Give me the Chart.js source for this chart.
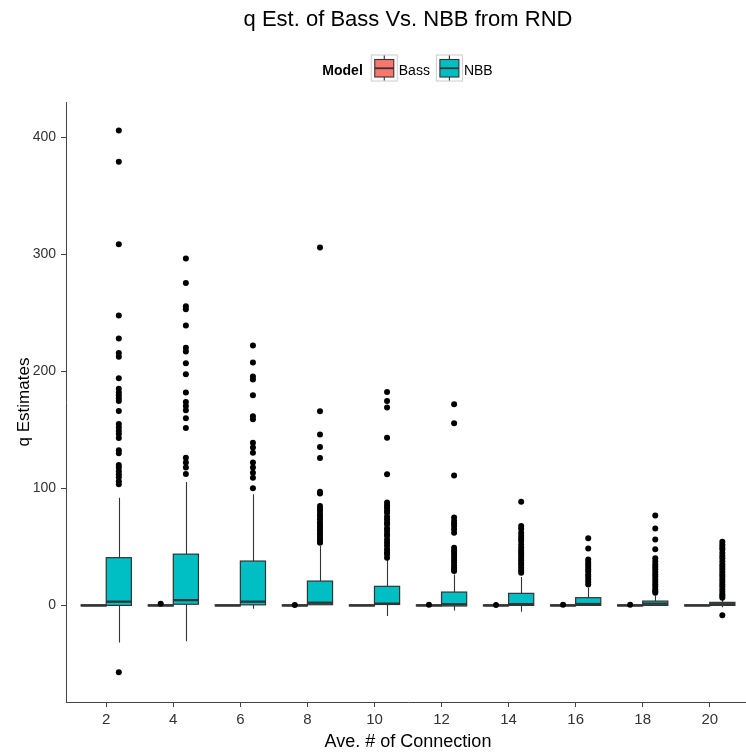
<!DOCTYPE html>
<html>
<head>
<meta charset="utf-8">
<script src="https://cdn.jsdelivr.net/npm/chart.js@4.4.1/dist/chart.umd.min.js"></script>
<style>
html,body{margin:0;padding:0;background:#fff;overflow:hidden;}
#wrap{width:753px;height:753px;}
</style>
</head>
<body>
<div id="wrap"><canvas id="c" width="753" height="753"></canvas></div>
<script>
// ---- data ----
const categories = [2, 4, 6, 8, 10, 12, 14, 16, 18, 20];
const seriesNames = ['Bass', 'NBB'];
const yTickValues = [0, 100, 200, 300, 400];

const nbbQ1 = [0, 1, 0.5, 0.6, 0.8, -0.5, 0, 0, 0, 0];
const nbbMedian = [3.2, 4.5, 3.2, 2.3, 1.5, 1, 1.1, 1.2, 1.5, 1];
const nbbQ3 = [40.8, 43.8, 37.9, 20.8, 16.3, 11.4, 10.3, 6.6, 3.7, 2.6];
const nbbWhiskerLow = [-31.6, -30.7, -2.8, 0.6, -9.1, -4.3, -5.4, -0.5, -0.5, -1.5];
const nbbWhiskerHigh = [92, 105.4, 95, 50.7, 39.3, 26.5, 24.2, 15.1, 8.5, 5];

const bassQ1 = [-0.4, -0.4, -0.4, -0.4, -0.4, -0.4, -0.4, -0.4, -0.4, -0.4];
const bassMedian = [0, 0, 0, 0, 0, 0, 0, 0, 0, 0];
const bassQ3 = [0.4, 0.4, 0.4, 0.4, 0.4, 0.4, 0.4, 0.4, 0.4, 0.4];
const bassWhiskerLow = [-0.4, -0.4, -0.4, -0.4, -0.4, -0.4, -0.4, -0.4, -0.4, -0.4];
const bassWhiskerHigh = [0.4, 0.4, 0.4, 0.4, 0.4, 0.4, 0.4, 0.4, 0.4, 0.4];

const nbbOutliers = [
  [405.7, 379, 308.5, 247.6, 228, 215.5, 212.5, 194, 185, 182, 179.5, 177, 174.5, 166, 155, 152, 149, 146.5, 143, 132.5, 130, 120, 117.5, 114.5, 112, 109.5, 106, 103.5, -57],
  [296.3, 275.5, 255.5, 253, 239, 220, 216.8, 206.8, 197.4, 181.8, 173.8, 170.3, 166.7, 159.8, 151.5, 126.2, 122, 117.7, 112.2],
  [222, 207.5, 195.5, 193, 179.5, 161.5, 159, 139, 134.8, 130.5, 122, 117.7, 113.4, 109, 100],
  [305.7, 165.8, 145.9, 135.3, 125.9, 97, 95.5, 85, 82.5, 80.6, 78, 76, 73.5, 71, 69, 67, 65, 63, 60.7, 58.5, 56.4, 54.5, 53.6],
  [182.3, 174.6, 169, 143.3, 112, 87.8, 85.5, 83.5, 81, 79.2, 76, 73.5, 71, 69.2, 66, 63.5, 61, 59.2, 56, 53.6, 51, 47.9, 45.5, 43.6, 40.8],
  [171.8, 155.6, 111, 75, 72, 70, 67.8, 65, 62.1, 49.3, 47, 45, 43, 40.8, 38.5, 36.5, 34, 32.2, 30.5, 29.3],
  [88.6, 67.8, 65.5, 62, 59.2, 57, 55, 52, 49.3, 47, 45, 43, 40.8, 38.5, 36.5, 34.5, 32.2, 30, 27.9],
  [57.3, 48.7, 39.3, 37, 35, 33, 30.8, 29, 26.5, 24.5, 22.2, 20, 17.9],
  [76.9, 65.8, 56.4, 47.9, 40.2, 37.5, 35, 33, 30.8, 28.5, 26.5, 24.5, 22.2, 20, 17.9, 16, 13.7, 12, 10.9],
  [54.4, 52.1, 50, 47.9, 45, 42.5, 40.2, 37.5, 35, 33, 30.8, 28.5, 26.5, 24.5, 22.2, 20, 17.9, 16, 13.7, 11.5, 9.4, 8, 6.6, -8.3]
];
const bassOutliers = [[], [1.5], [], [0.3], [], [0.5], [0.3], [0.5], [0.5], []];

// ---- style ----
const colors = { Bass: '#F8766D', NBB: '#00BFC4' };
const lineCol = '#333333';
const DODGE = 0.375;      // half of dodge width in x-units
const HALF = 0.375;       // half box width in x-units

const boxes = [
  { name: 'Bass', off: -DODGE, q1: bassQ1, med: bassMedian, q3: bassQ3, lo: bassWhiskerLow, hi: bassWhiskerHigh },
  { name: 'NBB', off: DODGE, q1: nbbQ1, med: nbbMedian, q3: nbbQ3, lo: nbbWhiskerLow, hi: nbbWhiskerHigh }
];

const boxPlugin = {
  id: 'boxes',
  beforeDatasetsDraw(chart) {
    const ctx = chart.ctx, xs = chart.scales.x, ys = chart.scales.y, a = chart.chartArea;
    ctx.save();
    ctx.beginPath(); ctx.rect(a.left, a.top, a.right - a.left, a.bottom - a.top); ctx.clip();
    categories.forEach((c, i) => {
      boxes.forEach(b => {
        const cx = xs.getPixelForValue(c + b.off);
        const x0 = xs.getPixelForValue(c + b.off - HALF);
        const x1 = xs.getPixelForValue(c + b.off + HALF);
        const yq1 = ys.getPixelForValue(b.q1[i]), yq3 = ys.getPixelForValue(b.q3[i]);
        const ym = ys.getPixelForValue(b.med[i]);
        const ylo = ys.getPixelForValue(b.lo[i]), yhi = ys.getPixelForValue(b.hi[i]);
        ctx.strokeStyle = lineCol; ctx.lineWidth = 1.1;
        ctx.beginPath();
        ctx.moveTo(Math.round(cx) + 0.5, yq3); ctx.lineTo(Math.round(cx) + 0.5, yhi);
        ctx.moveTo(Math.round(cx) + 0.5, yq1); ctx.lineTo(Math.round(cx) + 0.5, ylo);
        ctx.stroke();
        ctx.fillStyle = colors[b.name];
        ctx.fillRect(x0, yq3, x1 - x0, yq1 - yq3);
        ctx.lineWidth = 1.2;
        ctx.strokeRect(x0, yq3, x1 - x0, yq1 - yq3);
        ctx.lineWidth = 2.3;
        ctx.beginPath(); ctx.moveTo(x0, ym); ctx.lineTo(x1, ym); ctx.stroke();
      });
    });
    ctx.restore();
  }
};

const legendPlugin = {
  id: 'ggLegend',
  afterDraw(chart) {
    const ctx = chart.ctx, a = chart.chartArea;
    const cxm = (a.left + a.right) / 2;
    ctx.save();
    const boldFont = 'bold 14px "Liberation Sans", Arial, sans-serif';
    const normFont = '14px "Liberation Sans", Arial, sans-serif';
    ctx.font = boldFont;
    const wTitle = ctx.measureText('Model').width;
    ctx.font = normFont;
    const wNames = seriesNames.map(n => ctx.measureText(n).width);
    const key = 27, gapT = 8, gapK = 2, gapS = 5;
    const total = wTitle + gapT + (key + gapK) * 2 + wNames[0] + gapS + wNames[1];
    let x = cxm - total / 2;
    const keyTop = 54.5, baseY = 75;
    ctx.fillStyle = '#000';
    ctx.font = boldFont; ctx.textBaseline = 'alphabetic'; ctx.textAlign = 'left';
    ctx.fillText('Model', x, baseY);
    x += wTitle + gapT;
    seriesNames.forEach((n, k) => {
      ctx.fillStyle = '#fff'; ctx.fillRect(x, keyTop, key, key);
      ctx.strokeStyle = '#cccccc'; ctx.lineWidth = 1; ctx.strokeRect(x + 0.5, keyTop + 0.5, key - 1, key - 1);
      const ix0 = x + 4, ix1 = x + key - 4, iy0 = keyTop + 5, iy1 = keyTop + key - 4.5;
      const mid = x + key / 2;
      ctx.strokeStyle = lineCol; ctx.lineWidth = 1.1;
      ctx.beginPath();
      ctx.moveTo(mid, keyTop + 1); ctx.lineTo(mid, iy0);
      ctx.moveTo(mid, iy1); ctx.lineTo(mid, keyTop + key - 1);
      ctx.stroke();
      ctx.fillStyle = colors[n]; ctx.fillRect(ix0, iy0, ix1 - ix0, iy1 - iy0);
      ctx.strokeRect(ix0, iy0, ix1 - ix0, iy1 - iy0);
      ctx.lineWidth = 1.8;
      ctx.beginPath(); ctx.moveTo(ix0, (iy0 + iy1) / 2); ctx.lineTo(ix1, (iy0 + iy1) / 2); ctx.stroke();
      x += key + gapK - 1;
      ctx.fillStyle = '#000'; ctx.font = normFont;
      ctx.fillText(n, x, baseY);
      x += wNames[k] + gapS + 1;
    });
    ctx.restore();
  }
};

const pointsFor = (list, off) => categories.flatMap((c, i) => list[i].map(v => ({ x: c + off, y: v })));

const baseFont = '"Liberation Sans", Arial, sans-serif';

new Chart(document.getElementById('c'), {
  type: 'scatter',
  data: {
    datasets: [
      { label: 'Bass outliers', data: pointsFor(bassOutliers, -DODGE), backgroundColor: '#000', borderWidth: 0, pointRadius: 3, pointHoverRadius: 3 },
      { label: 'NBB outliers', data: pointsFor(nbbOutliers, DODGE), backgroundColor: '#000', borderWidth: 0, pointRadius: 3, pointHoverRadius: 3 }
    ]
  },
  options: {
    responsive: false,
    animation: false,
    events: [],
    layout: { padding: { left: 0, right: 1, top: 0, bottom: 0 } },
    plugins: {
      legend: { display: false },
      tooltip: { enabled: false },
      title: {
        display: true, fullSize: false,
        text: 'q Est. of Bass Vs. NBB from RND',
        color: '#000',
        font: { family: baseFont, size: 22, weight: 'normal' },
        padding: { top: 7, bottom: 68.6 }
      }
    },
    scales: {
      x: {
        type: 'linear', position: 'bottom', min: 0.8, max: 21.2,
        afterBuildTicks: (ax) => { ax.ticks = categories.map(v => ({ value: v })); },
        afterFit: (ax) => { ax.height = 51; },
        grid: { display: true, drawOnChartArea: false, drawTicks: true, tickLength: 5, color: '#444', lineWidth: 1 },
        border: { display: true, color: '#444', width: 1 },
        ticks: { color: '#333', padding: 4, font: { family: baseFont, size: 15 }, maxRotation: 0, autoSkip: false },
        title: { display: true, text: 'Ave. # of Connection', color: '#000', font: { family: baseFont, size: 18 }, padding: 0 }
      },
      y: {
        type: 'linear', position: 'left', min: -82.5, max: 430,
        afterBuildTicks: (ax) => { ax.ticks = yTickValues.map(v => ({ value: v })); },
        afterFit: (ax) => { ax.width = 66; },
        grid: { display: true, drawOnChartArea: false, drawTicks: true, tickLength: 5, color: '#444', lineWidth: 1 },
        border: { display: true, color: '#444', width: 1 },
        ticks: { color: '#333', padding: 5, font: { family: baseFont, size: 14 } },
        title: { display: true, text: 'q Estimates', color: '#000', font: { family: baseFont, size: 17 }, padding: { top: 14, bottom: 0 } }
      }
    }
  },
  plugins: [boxPlugin, legendPlugin]
});
</script>
</body>
</html>
